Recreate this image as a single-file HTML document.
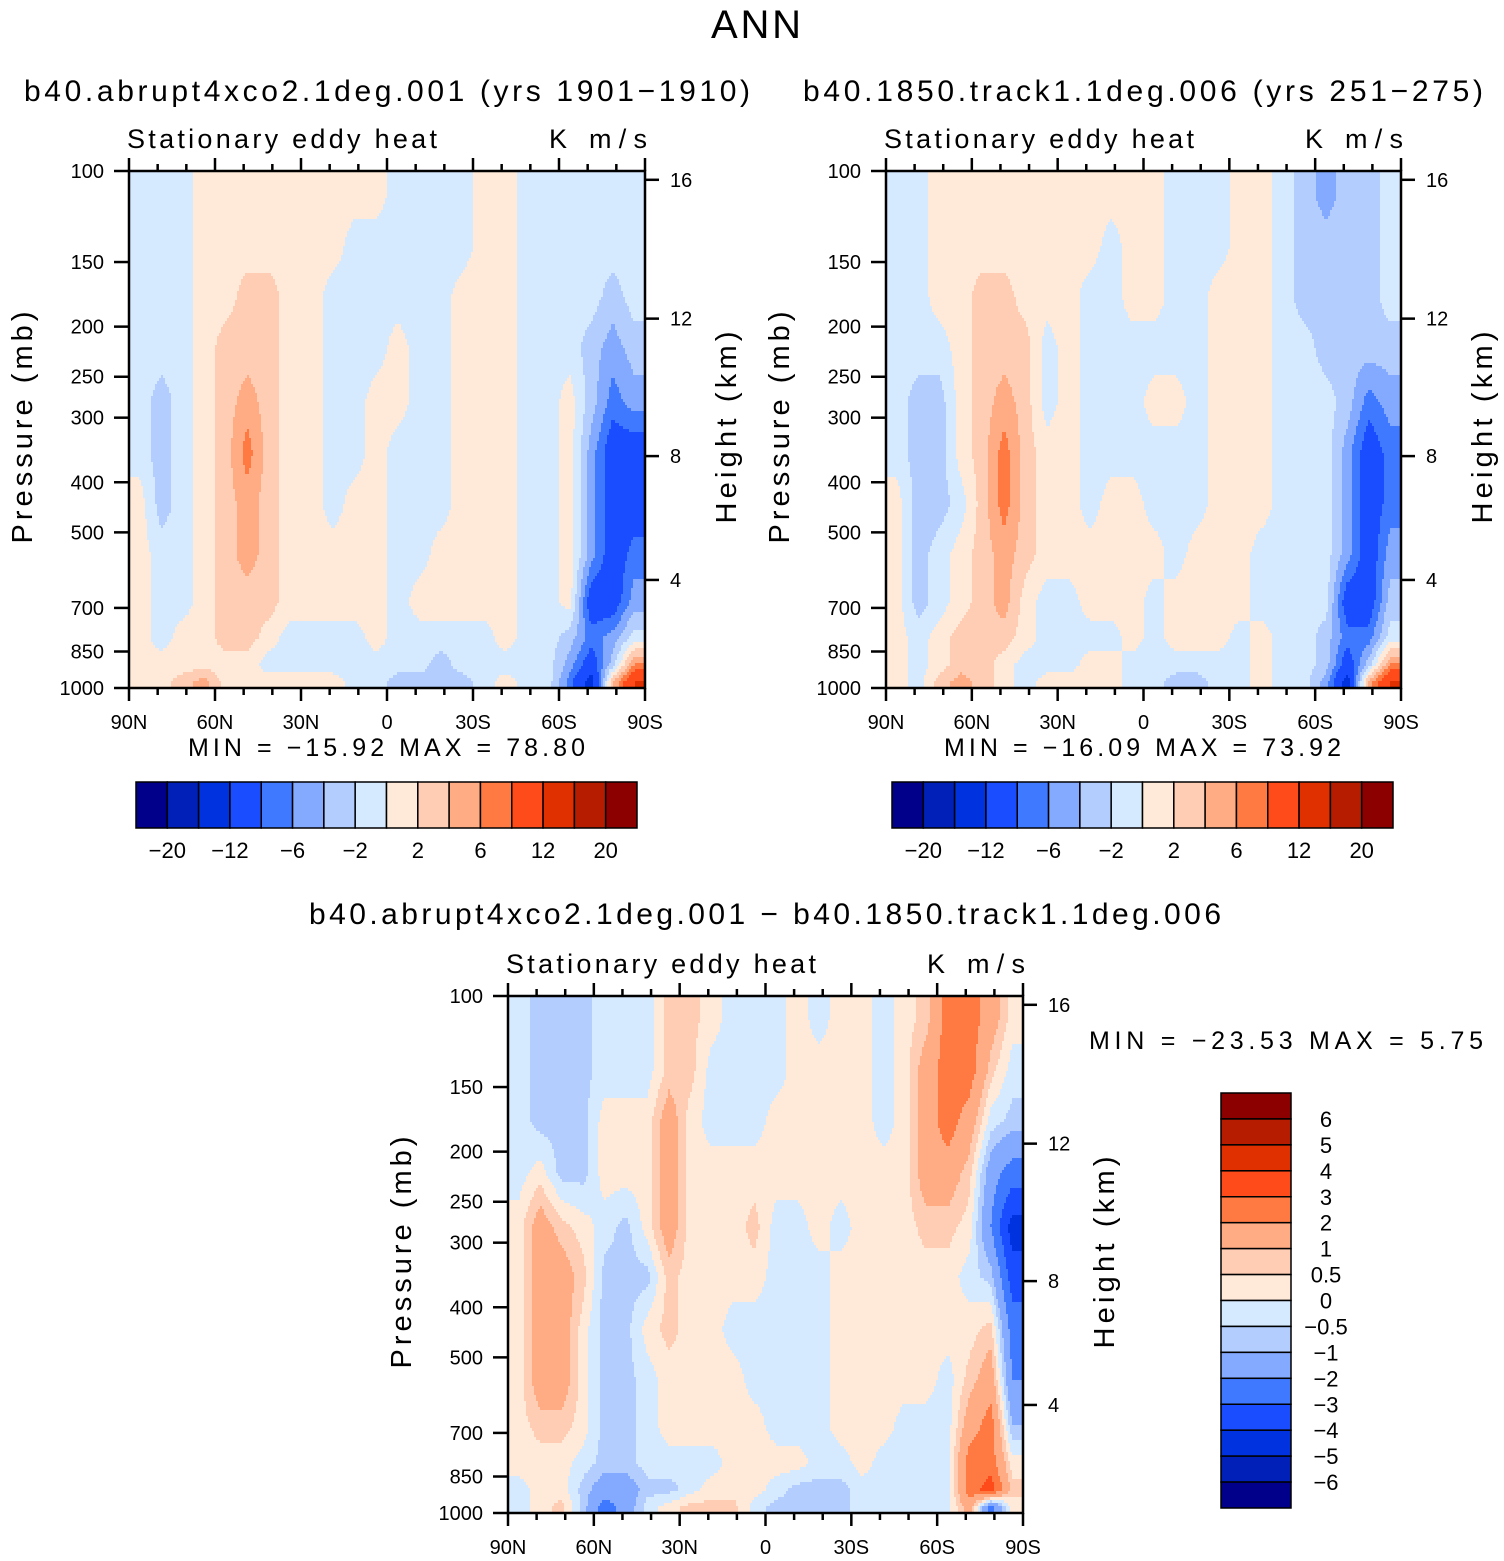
<!DOCTYPE html>
<html><head><meta charset="utf-8"><style>
html,body{margin:0;padding:0;background:#fff}
svg{display:block}
text{font-family:"Liberation Sans",sans-serif;fill:#000}
</style></head><body>
<svg id="chart" width="1504" height="1561" viewBox="0 0 1504 1561" xmlns="http://www.w3.org/2000/svg">
<text x="756" y="38" font-size="40" text-anchor="middle" textLength="90" lengthAdjust="spacing">ANN</text>
<text x="24" y="101" font-size="30" textLength="726" lengthAdjust="spacing">b40.abrupt4xco2.1deg.001 (yrs 1901−1910)</text>
<text x="803" y="101" font-size="30" textLength="680" lengthAdjust="spacing">b40.1850.track1.1deg.006 (yrs 251−275)</text>
<text x="309" y="924" font-size="30" textLength="912" lengthAdjust="spacing">b40.abrupt4xco2.1deg.001 − b40.1850.track1.1deg.006</text>
<g id="layer"></g>
</svg>
<script>
const colors=["#00008a","#0020b8","#0032e0","#1a4dff","#3f79ff","#84aaff","#b3cdff","#d5e9ff","#ffeada","#ffccb4","#ffab84","#ff7a42","#ff4b19","#e03000","#b51c00","#8c0000"];
const boundsA=[-20,-16,-12,-8,-6,-4,-2,0,2,4,6,8,12,16,20];
const boundsD=[-6,-5,-4,-3,-2,-1,-0.5,0,0.5,1,2,3,4,5,6];
const pressureCenters=[110,140,175,220,280,350,440,550,680,800,900,975];
const pressureTicks=[100,150,200,250,300,400,500,700,850,1000];
const heightTicks=[16,12,8,4];
const heightTickP=[104,193,356,618];
const latTickLabels=["90N","60N","30N","0","30S","60S","90S"];
const cbLabelsA=["−20","−12","−6","−2","2","6","12","20"];
const cbLabelsD=["6","5","4","3","2","1","0.5","0","−0.5","−1","−2","−3","−4","−5","−6"];
const M=-1;
const field1=[
[M,M,M,M,M,M,1,1,1,1,1,1],[M,M,M,M,-3,-3,-3,M,M,M,1,1],[M,M,M,M,M,M,M,M,M,1,1,3],[1,1,1,1,1,1,1,1,1,1,1,5],
[1,1,1,3,3,3,3,3,3,3,1,1],[1,1,3,3,5,7,5,5,3,3,1,1],[1,1,3,3,3,3,3,3,3,1,M,1],[1,1,1,1,1,1,1,1,1,M,M,1],
[1,1,1,1,1,1,1,1,1,M,M,1],[1,1,M,M,M,M,M,1,1,M,M,1],[1,M,M,M,M,M,1,1,1,M,M,M],[1,M,M,M,1,1,1,1,1,1,M,M],
[M,M,M,1,1,M,M,M,M,M,M,-3],[M,M,M,M,M,M,M,M,1,M,M,-3],[M,M,M,M,M,M,M,1,1,M,-3,-3],[M,M,1,1,1,1,1,1,1,M,M,-3],
[1,1,1,1,1,1,1,1,1,M,M,M],[1,1,1,1,1,1,1,1,1,1,M,1],[M,M,M,M,M,M,M,M,M,M,M,M],[M,M,M,M,M,M,M,M,M,M,M,M],
[M,M,M,M,1,1,1,1,1,-3,-5,-7],[M,M,M,-3,-3,-5,-5,-5,-10,-7,-10,-14],[M,M,-3,-5,-7,-10,-10,-10,-10,-5,-3,4],[M,M,M,-3,-5,-10,-10,-7,-5,-1,6,12]];
const field2=[
[M,M,M,M,M,M,1,1,1,1,1,1],[M,M,M,M,-3,-3,-3,-3,-3,M,M,M],[1,1,1,M,-3,-3,-3,M,M,1,1,3],[1,1,1,1,1,1,M,1,1,3,3,5],
[1,1,3,3,3,3,3,3,3,3,3,3],[1,1,3,3,5,7,7,5,5,3,1,1],[1,1,1,3,3,3,3,3,1,1,M,M],[1,1,1,M,M,1,1,1,M,M,M,1],
[1,1,1,1,1,1,1,1,M,M,M,1],[1,1,M,M,M,M,M,1,1,M,1,1],[1,M,M,M,M,M,1,1,1,M,1,1],[1,1,1,M,M,M,1,1,1,1,M,M],
[1,1,1,M,1,M,M,1,M,M,M,M],[M,M,M,M,1,M,M,M,1,1,M,-3],[M,M,M,M,M,M,M,1,1,1,M,-3],[M,M,1,1,1,1,1,1,1,1,M,M],
[1,1,1,1,1,1,1,1,1,M,M,M],[1,1,1,1,1,1,1,M,M,1,1,1],[M,M,M,M,M,M,M,M,M,M,M,M],[-3,-3,-3,M,M,M,M,M,M,M,M,M],
[-5,-3,-3,-3,M,M,M,M,M,-3,-3,-5],[-3,-3,-3,-3,-3,-5,-5,-5,-10,-7,-10,-14],[-3,-3,-3,-3,-7,-10,-10,-10,-10,-7,-3,5],[M,M,M,-3,-5,-7,-7,-5,-3,-1,6,12]];
const a=0.25,b=-0.25;
const field3=[
[b,b,b,b,a,a,a,a,a,a,b,b],[-0.7,-0.7,-0.7,a,1.5,1.5,1.5,1.5,0.7,a,a,a],[-0.7,-0.7,-0.7,-0.7,0.7,1.5,1.5,1.5,0.7,a,a,0.7],[-0.7,-0.7,-0.7,-0.7,a,0.7,a,a,a,b,-0.7,-0.7],
[b,b,a,a,b,-0.7,-0.7,-0.7,-0.7,-0.7,-1.5,-2.5],[b,b,a,a,-0.7,-0.7,-0.7,-0.7,-0.7,-0.7,-1.5,-1.5],[b,b,a,a,a,-0.7,a,b,b,b,-0.7,b],[0.7,0.7,1.5,1.5,1.5,0.7,0.7,a,a,b,-0.7,a],
[0.7,0.7,a,a,a,a,a,a,a,b,b,0.7],[a,b,b,a,a,a,a,a,a,b,a,0.7],[b,b,b,a,a,a,b,a,a,a,a,0.7],[b,b,b,a,0.7,a,b,b,a,a,a,b],
[b,b,a,a,b,b,b,b,b,a,b,-0.7],[a,a,a,a,b,b,b,b,b,a,-0.7,-0.7],[b,a,a,a,a,b,b,b,b,b,-0.7,-0.7],[a,a,a,a,b,a,a,a,a,b,-0.7,-0.7],
[a,a,a,a,a,a,a,a,a,a,b,b],[b,b,b,a,a,a,a,a,a,b,b,b],[a,a,a,a,a,a,a,a,b,b,b,b],[0.7,1.5,1.5,1.5,0.7,a,a,a,b,b,b,b],
[2.5,2.5,2.5,1.5,0.7,a,a,b,b,b,b,b],[2.5,2.5,1.5,0.7,a,b,a,0.7,1.5,2.5,2.5,1.5],[1.5,0.7,b,-1.5,-2,-0.7,0.7,1.5,2.5,2.5,3.5,-2.5],[a,b,-0.7,-2.5,-4.5,-3.5,-2.5,-2,-1,a,0.7,a]];

const NS="http://www.w3.org/2000/svg";
const layer=document.getElementById('layer');
function mk(tag,attrs,parent){const e=document.createElementNS(NS,tag);for(const k in attrs)e.setAttribute(k,attrs[k]);(parent||layer).appendChild(e);return e;}
function txt(s,attrs,parent){const e=mk('text',attrs,parent);e.textContent=s;return e;}
function colorIdx(v,bounds){let i=0;while(i<bounds.length&&v>=bounds[i])i++;return i;}

function panel(name,x0,y0,W,H,field,bounds){
  const g=mk('g',{});
  
  
  const yP=p=>y0+H*Math.log10(p/100);
  const nc=field.length, nr=pressureCenters.length;
  const cy=pressureCenters.map(yP);
  function interp(x,y){
    let fi=(x-x0)/(W/nc)-0.5; fi=Math.max(0,Math.min(nc-1,fi));
    const i0=Math.min(nc-2,Math.floor(fi)), tx=fi-i0;
    let j0=0; while(j0<nr-2&&y>cy[j0+1])j0++;
    let ty=(y-cy[j0])/(cy[j0+1]-cy[j0]); ty=Math.max(0,Math.min(1,ty));
    const v00=field[i0][j0],v10=field[i0+1][j0],v01=field[i0][j0+1],v11=field[i0+1][j0+1];
    return (v00*(1-tx)+v10*tx)*(1-ty)+(v01*(1-tx)+v11*tx)*ty;
  }
  function flush(x1,x2,y,hh,c){
    const r=mk('rect',{x:x1,y:y,width:x2-x1+0.5,height:hh+0.5,fill:colors[c]},g);
    
    
  }
  const sx=2, sy=3;
  for(let y=y0;y<y0+H;y+=sy){
    const hh=Math.min(sy,y0+H-y);
    let runStart=x0, runC=-1;
    for(let x=x0;x<x0+W;x+=sx){
      const c=colorIdx(interp(Math.min(x+sx/2,x0+W),y+hh/2),bounds);
      if(c!==runC){
        if(runC>=0)flush(runStart,x,y,hh,runC);
        runStart=x; runC=c;
      }
    }
    if(runC>=0)flush(runStart,x0+W,y,hh,runC);
  }
  const fr=mk('rect',{x:x0,y:y0,width:W,height:H,fill:'none',stroke:'#000','stroke-width':2.5},g);
  
  
  const xL=lat=>x0+W*(90-lat)/180;
  pressureTicks.forEach(p=>{
    const y=yP(p);
    mk('line',{x1:x0-15,x2:x0,y1:y,y2:y,stroke:'#000','stroke-width':2.5},g);
    const t=txt(String(p),{x:x0-25,y:y+7,'font-size':20,'text-anchor':'end'},g);
    
    
  });
  heightTicks.forEach((h,i)=>{
    const y=yP(heightTickP[i]);
    mk('line',{x1:x0+W,x2:x0+W+14,y1:y,y2:y,stroke:'#000','stroke-width':2.5},g);
    const t=txt(String(h),{x:x0+W+25,y:y+7,'font-size':20},g);
    
    
  });
  for(let lat=90;lat>=-90;lat-=10){
    const x=xL(lat), maj=(lat%30===0);
    const L=maj?13:7;
    mk('line',{x1:x,x2:x,y1:y0+H,y2:y0+H+L,stroke:'#000','stroke-width':2.5},g);
    mk('line',{x1:x,x2:x,y1:y0,y2:y0-L,stroke:'#000','stroke-width':2.5},g);
  }
  latTickLabels.forEach((s,i)=>{
    const t=txt(s,{x:xL(90-30*i),y:y0+H+41,'font-size':20,'text-anchor':'middle'},g);
    
    
  });
  let t=txt('Stationary eddy heat',{x:x0-2,y:y0-23,'font-size':27,textLength:310,lengthAdjust:'spacing'},g);
  
  
  t=txt('K m/s',{x:x0+W+2,y:y0-23,'font-size':27,'text-anchor':'end',textLength:98,lengthAdjust:'spacing'},g);
  
  
  const cyy=y0+H/2-2;
  t=txt('Pressure (mb)',{x:0,y:0,'font-size':29,'text-anchor':'middle',transform:`translate(${x0-97},${cyy}) rotate(-90)`,textLength:232,lengthAdjust:'spacing'},g);
  
  
  t=txt('Height (km)',{x:0,y:0,'font-size':29,'text-anchor':'middle',transform:`translate(${x0+W+91},${cyy}) rotate(-90)`,textLength:192,lengthAdjust:'spacing'},g);
  
  
  return g;
}

function hbar(name,x0,y0,W,H,labels){
  const g=mk('g',{});
  
  
  const cw=W/colors.length;
  colors.forEach((c,i)=>{
    const r=mk('rect',{x:x0+i*cw,y:y0,width:cw,height:H,fill:c,stroke:'#000','stroke-width':1.5},g);
    
    
  });
  labels.forEach((s,i)=>{
    const t=txt(s,{x:x0+cw*(1+2*i),y:y0+H+30,'font-size':22,'text-anchor':'middle'},g);
    
    
  });
}
function vbar(name,x0,y0,W,H,labels){
  const g=mk('g',{});
  
  
  const ch=H/colors.length;
  colors.slice().reverse().forEach((c,i)=>{
    const r=mk('rect',{x:x0,y:y0+i*ch,width:W,height:ch,fill:c,stroke:'#000','stroke-width':1.5},g);
    
    
  });
  labels.forEach((s,i)=>{
    const t=txt(s,{x:x0+W+35,y:y0+ch*(i+1)+8,'font-size':22,'text-anchor':'middle'},g);
    
    
  });
}

panel('panel1-contour',129,171,516,517,field1,boundsA);
panel('panel2-contour',886,171,515,517,field2,boundsA);
panel('panel3-contour',508,996,515,517,field3,boundsD);
hbar('panel1-colorbar',136,782,501,46,cbLabelsA);
hbar('panel2-colorbar',892,782,501,46,cbLabelsA);
vbar('panel3-colorbar',1221,1093,70,415,cbLabelsD);

function stat(s,x,y,len,name){const t=txt(s,{x:x,y:y,'font-size':25,textLength:len,lengthAdjust:'spacing','xml:space':'preserve'});
  
  }
stat('MIN = −15.92   MAX =  78.80',188,756,397,'panel1-minmax');
stat('MIN = −16.09   MAX =  73.92',944,756,397,'panel2-minmax');
stat('MIN = −23.53   MAX =    5.75',1089,1049,394,'panel3-minmax');
</script>
</body></html>
